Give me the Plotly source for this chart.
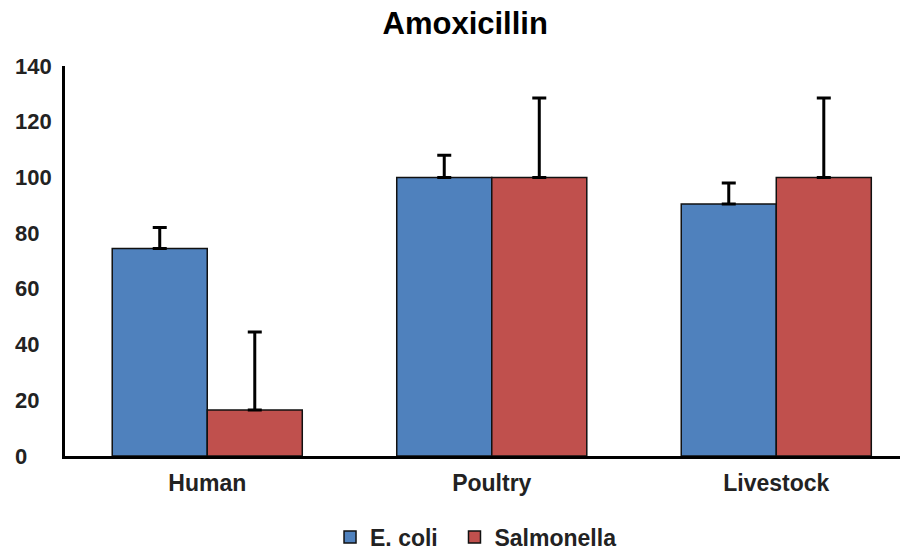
import plotly.graph_objects as go

# data
categories = ['Human', 'Poultry', 'Livestock']
ecoli = [74.5, 100, 90.5]
ecoli_err = [7.5, 8, 7.5]
salmonella = [16.5, 100, 100]
salmonella_err = [28, 28.5, 28.5]
y_ticks = [0, 20, 40, 60, 80, 100, 120, 140]

font_family = 'Arial, Liberation Sans, sans-serif'
legend_font = dict(family=font_family, size=23, color='#222222', weight=700)

fig = go.Figure()

fig.add_trace(go.Bar(
    x=categories, y=ecoli, name='E. coli', legend='legend', showlegend=True,
    marker=dict(color='#4F81BD', line=dict(color='#111111', width=1.5)),
    error_y=dict(type='data', array=ecoli_err, arrayminus=[0] * len(ecoli_err),
                 symmetric=False, color='black', thickness=3, width=7),
))
fig.add_trace(go.Bar(
    x=categories, y=salmonella, name='Salmonella', legend='legend2', showlegend=True,
    marker=dict(color='#C0504D', line=dict(color='#111111', width=1.5)),
    error_y=dict(type='data', array=salmonella_err, arrayminus=[0] * len(salmonella_err),
                 symmetric=False, color='black', thickness=3, width=7),
))

# y tick labels are left-aligned in the reference, so draw them as annotations
for v in y_ticks:
    fig.add_annotation(
        x=-0.0617, xref='paper', xanchor='left',
        y=v, yref='y', yanchor='middle',
        text=str(v), showarrow=False,
        font=dict(family=font_family, size=22, color='#222222', weight=700),
    )

# page body adds an 8px offset, so the figure is 8px smaller than the window
fig.update_layout(
    width=900, height=544,
    margin=dict(l=57, r=0, t=58, b=96),
    paper_bgcolor='white', plot_bgcolor='white',
    showlegend=True,
    barmode='group', bargap=0.332, bargroupgap=0,
    title=dict(text='Amoxicillin', x=0.508, xref='container', xanchor='center',
               y=0.973, yref='container', yanchor='middle',
               font=dict(family=font_family, size=31, color='black', weight=700)),
    font=dict(family=font_family, color='#222222'),
    legend=dict(orientation='h', x=0.3578, xref='container', xanchor='left',
                y=0.0276, yref='container', yanchor='middle',
                font=legend_font, itemclick=False),
    legend2=dict(orientation='h', x=0.4961, xref='container', xanchor='left',
                 y=0.0276, yref='container', yanchor='middle',
                 font=legend_font, itemclick=False),
    xaxis=dict(range=[-0.5, 2.463], showline=True, linecolor='black', linewidth=3,
               ticks='', showgrid=False, zeroline=False, ticklabelstandoff=4,
               tickfont=dict(family=font_family, size=23, color='#222222', weight=700)),
    yaxis=dict(range=[0, 140], tickvals=y_ticks, showticklabels=False,
               showline=True, linecolor='black', linewidth=3,
               ticks='', showgrid=False, zeroline=False),
)

fig.write_html('out.html')
